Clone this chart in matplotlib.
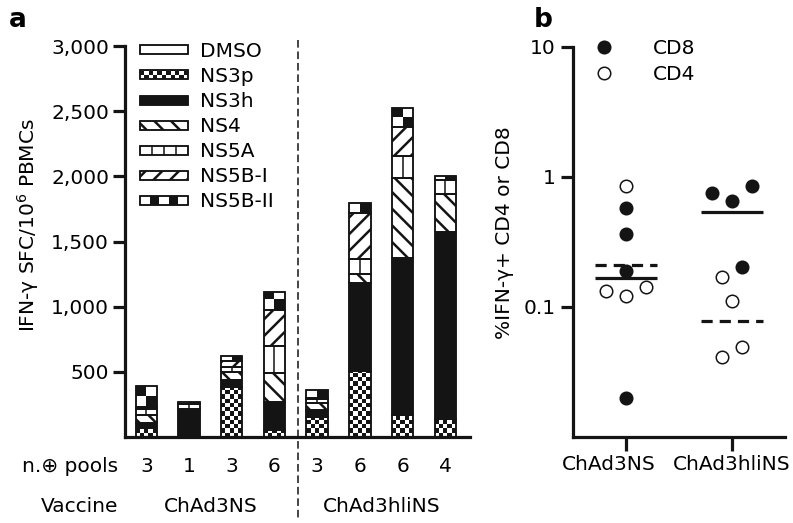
import numpy as np
import matplotlib
matplotlib.use('Agg')
import matplotlib.pyplot as plt
from matplotlib.patches import Rectangle
from matplotlib.lines import Line2D
from matplotlib.legend_handler import HandlerBase
from matplotlib.ticker import FuncFormatter, FixedLocator, NullLocator
from matplotlib.transforms import blended_transform_factory, ScaledTranslation

# ---------------- data ----------------
pools = [3, 1, 3, 6, 3, 6, 6, 4]
vaccine_groups = ['ChAd3NS', 'ChAd3hliNS']
antigens = ['DMSO', 'NS3p', 'NS3h', 'NS4', 'NS5A', 'NS5B-I', 'NS5B-II']
dmso = [0, 0, 0, 0, 0, 0, 0, 0]
ns3p = [70, 0, 385, 55, 153, 506, 169, 138]
ns3h = [40, 215, 55, 215, 54, 675, 1204, 1434]
ns4 = [60, 0, 55, 222, 54, 70, 613, 291]
ns5a = [45, 35, 40, 207, 30, 113, 169, 107]
ns5b1 = [15, 0, 45, 276, 10, 353, 222, 0]
ns5b2 = [160, 20, 38, 138, 60, 77, 146, 30]

yticks_a = [500, 1000, 1500, 2000, 2500, 3000]

cd8_chad3ns = [0.58, 0.365, 0.189, 0.020]
cd4_chad3ns = [0.853, 0.133, 0.122, 0.142]
cd8_chad3hlins = [0.753, 0.653, 0.853, 0.203]
cd4_chad3hlins = [0.170, 0.111, 0.049, 0.041]
yticks_b = [0.1, 1, 10]
yticklabels_b = ['0.1', '1', '10']

# ---------------- style ----------------
BLACK = '#141414'
FS = 14.5
EDGE_LW = 1.1
plt.rcParams['font.family'] = ['DejaVu Sans']
plt.rcParams['font.size'] = FS
plt.rcParams['hatch.linewidth'] = 1.8
plt.rcParams['hatch.color'] = BLACK
DPI = 100

kinds = {'DMSO': 'plain', 'NS3p': 'fine', 'NS3h': 'solid', 'NS4': 'bslash',
         'NS5A': 'vbar', 'NS5B-I': 'slash', 'NS5B-II': 'coarse'}
HATCH = {'bslash': '\\\\', 'slash': '//'}


def overlay_artists(x0, y0, w, h, kind, sx, sy):
    """pattern artists drawn on top of a base rectangle; sx, sy = px per unit"""
    arts = []
    if kind in ('fine', 'coarse'):
        cell = 4.2 if kind == 'fine' else 10.5
        wpx, hpx = w * sx, h * sy
        nx = max(1, int(round(wpx / cell)))
        cpx = wpx / nx
        ny = int(np.ceil(hpx / cpx - 1e-6))
        cw, ch = w / nx, cpx / sy
        for j in range(ny):
            yb = y0 + j * ch
            hh = min(ch, y0 + h - yb)
            if hh <= 0:
                continue
            for i in range(nx):
                if (i + j) % 2 == 1:
                    arts.append(Rectangle((x0 + i * cw, yb), cw, hh, facecolor=BLACK,
                                          edgecolor='none', lw=0, zorder=2.1))
    if kind == 'vbar':
        n = max(2, int(round(w * sx / 12)))
        for k in range(1, n):
            xx = x0 + k * w / n
            arts.append(Line2D([xx, xx], [y0, y0 + h], color=BLACK, lw=EDGE_LW,
                               zorder=2.1, solid_capstyle='butt'))
    arts.append(Rectangle((x0, y0), w, h, facecolor='none', edgecolor=BLACK,
                          lw=EDGE_LW, zorder=2.2))
    return arts


class PatternKey:
    def __init__(self, kind):
        self.kind = kind


class PatternHandler(HandlerBase):
    def create_artists(self, legend, orig_handle, xdescent, ydescent, width,
                       height, fontsize, trans):
        kind = orig_handle.kind
        s = legend.figure.dpi / 72.0
        bh = 9.0 / s
        x0 = -xdescent
        y0 = -ydescent + (height - bh) / 2.0
        face = BLACK if kind == 'solid' else 'white'
        base = Rectangle((x0, y0), width, bh, facecolor=face, edgecolor=BLACK,
                         lw=EDGE_LW, hatch=HATCH.get(kind))
        arts = [base] + overlay_artists(x0, y0, width, bh, kind, s, s)
        for a in arts:
            a.set_transform(trans)
        return arts


fig = plt.figure(figsize=(7.93, 5.23), dpi=DPI)

# ================= panel a =================
axa = fig.add_axes([125 / 793, 86 / 523, 345 / 793, 391 / 523])
x = np.arange(len(pools))
axa.set_xlim(-0.5, 7.58)
axa.set_ylim(0, 3000)
sx = 345 / (7.58 + 0.5)
sy = 391 / 3000.0
bw = 0.5

layers = [('DMSO', dmso), ('NS3p', ns3p), ('NS3h', ns3h), ('NS4', ns4),
          ('NS5A', ns5a), ('NS5B-I', ns5b1), ('NS5B-II', ns5b2)]
bottom = np.zeros(len(pools))
for name, vals in layers:
    kind = kinds[name]
    vals = np.array(vals, dtype=float)
    face = BLACK if kind == 'solid' else 'white'
    lws = [EDGE_LW if v > 0 else 0 for v in vals]
    bars = axa.bar(x, vals, bw, bottom=bottom, color=face, edgecolor=BLACK,
                   linewidth=lws, hatch=HATCH.get(kind), zorder=2)
    for p, v in zip(bars.patches, vals):
        if v <= 0:
            continue
        for art in overlay_artists(p.get_x(), p.get_y(), p.get_width(),
                                   p.get_height(), kind, sx, sy):
            if isinstance(art, Line2D):
                axa.add_line(art)
            else:
                axa.add_patch(art)
    bottom = bottom + vals

for s in ['top', 'right']:
    axa.spines[s].set_visible(False)
for s in ['left', 'bottom']:
    axa.spines[s].set_linewidth(2.3)
    axa.spines[s].set_color(BLACK)
axa.yaxis.set_major_locator(FixedLocator(yticks_a))
axa.yaxis.set_major_formatter(FuncFormatter(lambda v, p: f'{int(v):,}'))
axa.tick_params(axis='y', length=9, width=2.3, color=BLACK, pad=2.5,
                labelsize=FS)
axa.xaxis.set_major_locator(NullLocator())

# vertical dashed separator
trans_a = blended_transform_factory(axa.transData, axa.transAxes)
axa.plot([3.55, 3.55], [1.015, -0.207], transform=trans_a, clip_on=False,
         color=BLACK, lw=1.1, dashes=(5, 2.5), zorder=1)

# bottom annotation rows
for xi, n in zip(x, pools):
    axa.text(xi, -0.0767, str(n), transform=trans_a, ha='center', va='center',
             fontsize=FS)
axa.text(-0.0204, -0.0767, 'n.\u2295 pools', transform=axa.transAxes,
         ha='right', va='center', fontsize=FS)
axa.text(-0.0204, -0.179, 'Vaccine', transform=axa.transAxes,
         ha='right', va='center', fontsize=FS)
axa.text(1.5, -0.179, vaccine_groups[0], transform=trans_a, ha='center',
         va='center', fontsize=FS)
axa.text(5.5, -0.179, vaccine_groups[1], transform=trans_a, ha='center',
         va='center', fontsize=FS)

fig.text(28 / 793, 1 - 225 / 523, 'IFN-\u03b3 SFC/10$^{6}$ PBMCs', rotation=90,
         ha='center', va='center', fontsize=FS)

leg_a = axa.legend([PatternKey(kinds[a]) for a in antigens], antigens,
                   handler_map={PatternKey: PatternHandler()},
                   loc='upper left', bbox_to_anchor=(140 / 793, 1 - 42 / 523),
                   bbox_transform=fig.transFigure, frameon=False,
                   handlelength=2.38, handleheight=0.7, handletextpad=0.6,
                   labelspacing=0.3, borderpad=0, borderaxespad=0,
                   fontsize=FS)

# ================= panel b =================
axb = fig.add_axes([573 / 793, 86 / 523, 212 / 793, 390 / 523])
axb.set_yscale('log')
axb.set_ylim(0.01, 10)
axb.set_xlim(0, 4)
centers = [1, 3]

pts_cd8 = [cd8_chad3ns, cd8_chad3hlins]
pts_cd4 = [cd4_chad3ns, cd4_chad3hlins]
off_cd8 = [[0, 0, 0, 0], [-0.38, 0, 0.38, 0.19]]
off_cd4 = [[0, -0.38, 0, 0.38], [-0.19, 0, 0.19, -0.19]]
MS = 9
for c, vals, offs in zip(centers, pts_cd8, off_cd8):
    axb.plot(np.array(offs) + c, vals, 'o', ls='none', mfc=BLACK, mec=BLACK,
             ms=MS, mew=1.1, zorder=4, clip_on=False)
for c, vals, offs in zip(centers, pts_cd4, off_cd4):
    axb.plot(np.array(offs) + c, vals, 'o', ls='none', mfc='white', mec=BLACK,
             ms=MS, mew=1.1, zorder=4, clip_on=False)

half = 0.585
for c, v8, v4 in zip(centers, pts_cd8, pts_cd4):
    g8 = np.exp(np.mean(np.log(v8)))
    g4 = np.exp(np.mean(np.log(v4)))
    axb.plot([c - half, c + half], [g8, g8], color=BLACK, lw=2.3,
             solid_capstyle='butt', zorder=3)
    axb.plot([c - half, c + half], [g4, g4], color=BLACK, lw=2.3,
             dashes=(3.5, 2.2), zorder=3)

for s in ['top', 'right']:
    axb.spines[s].set_visible(False)
for s in ['left', 'bottom']:
    axb.spines[s].set_linewidth(2.3)
    axb.spines[s].set_color(BLACK)
axb.yaxis.set_major_locator(FixedLocator(yticks_b))
axb.yaxis.set_major_formatter(FuncFormatter(
    lambda v, p: dict(zip(yticks_b, yticklabels_b)).get(v, '')))
axb.yaxis.set_minor_locator(NullLocator())
axb.set_xticks(centers)
axb.set_xticklabels(vaccine_groups)
axb.tick_params(axis='y', length=9, width=2.3, color=BLACK, pad=3.5,
                labelsize=FS)
axb.tick_params(axis='x', length=10, width=2.3, color=BLACK, pad=3,
                labelsize=FS)
# first category label sits a little left of its tick in the reference
lab0 = axb.get_xticklabels()[0]
lab0.set_transform(lab0.get_transform() +
                   ScaledTranslation(-17 / 100, 0, fig.dpi_scale_trans))

fig.text(505 / 793, 1 - 233 / 523, '%IFN-\u03b3+ CD4 or CD8', rotation=90,
         ha='center', va='center', fontsize=FS)

hb = [Line2D([], [], marker='o', ls='none', mfc=BLACK, mec=BLACK, ms=MS, mew=1.1),
      Line2D([], [], marker='o', ls='none', mfc='white', mec=BLACK, ms=MS, mew=1.1)]
axb.legend(hb, ['CD8', 'CD4'], loc='upper left',
           bbox_to_anchor=(594 / 793, 1 - 39 / 523),
           bbox_transform=fig.transFigure, frameon=False, numpoints=1,
           handlelength=1.0, handletextpad=1.9, labelspacing=0.37,
           borderpad=0, borderaxespad=0, fontsize=FS)

# panel letters
fig.text(9 / 793, 1 - 27 / 523, 'a', fontsize=19, fontweight='bold',
         va='baseline', ha='left')
fig.text(534 / 793, 1 - 27 / 523, 'b', fontsize=19, fontweight='bold',
         va='baseline', ha='left')

fig.savefig('out.png', dpi=DPI)
